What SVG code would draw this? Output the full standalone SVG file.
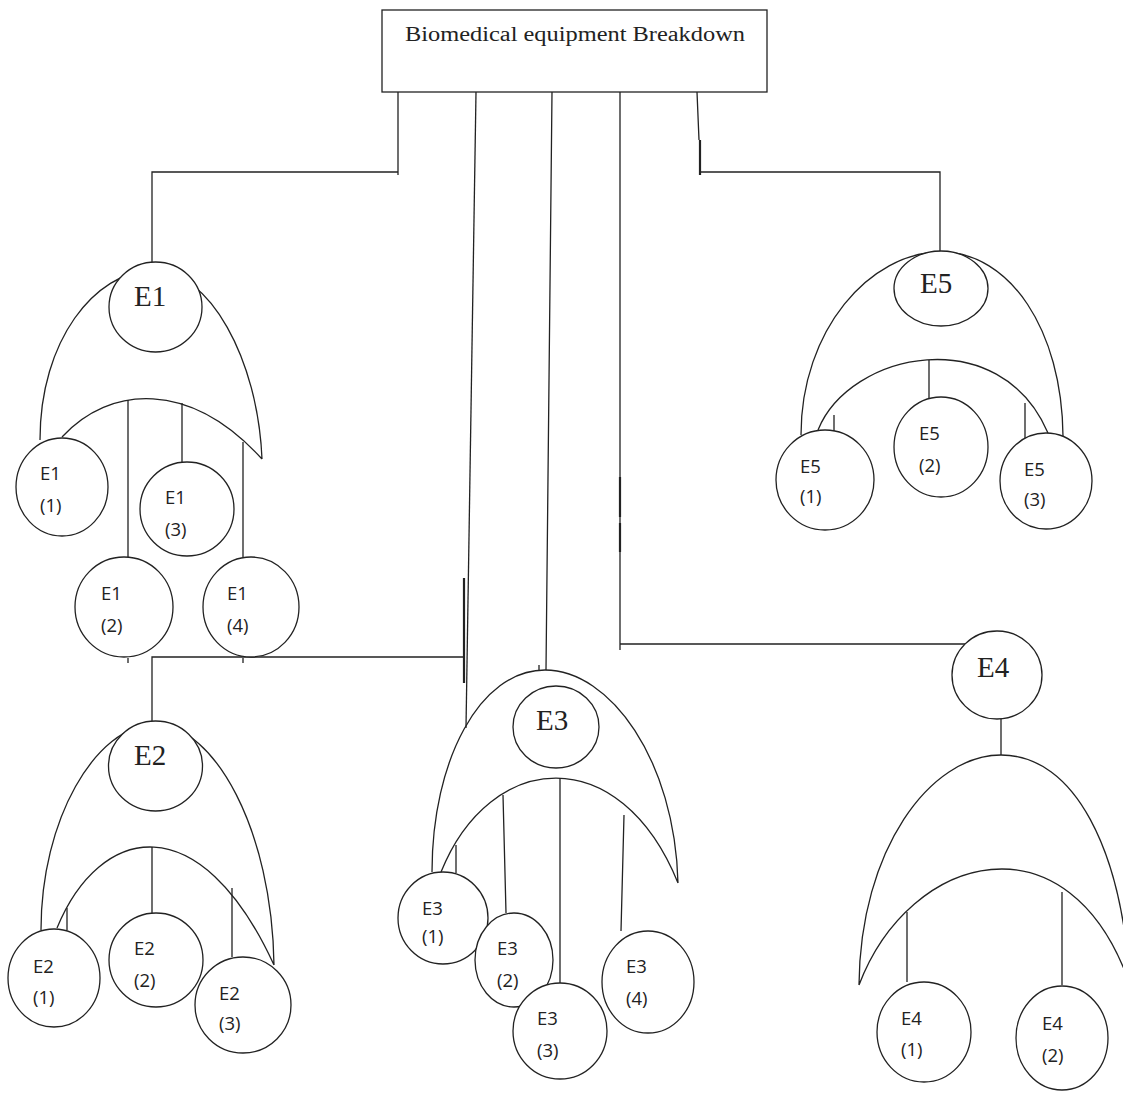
<svg xmlns="http://www.w3.org/2000/svg" width="1123" height="1095" viewBox="0 0 1123 1095">
<style>
.ln{fill:none;stroke:#222;stroke-width:1.3}
.tk{fill:none;stroke:#222;stroke-width:2.2}
.arc{fill:none;stroke:#222;stroke-width:1.3}
.nd{fill:#fff;stroke:#222;stroke-width:1.3}
.big{font-family:"Liberation Serif","Times New Roman",serif;font-size:29px;fill:#222}
.sm{font-family:"Open Sans","Liberation Sans",sans-serif;font-size:18.5px;fill:#222}
.ttl{font-family:"Liberation Serif","Times New Roman",serif;font-size:20px;fill:#222}
</style>
<rect width="1123" height="1095" fill="#fff"/>
<g id="connectors">
<path class="ln" d="M398,92 V175 M398,172 H152 V262"/>
<path class="ln" d="M476,92 L466,728"/>
<path class="tk" d="M464,578 V683"/>
<path class="ln" d="M464,657 H152 V721"/>
<path class="ln" d="M128,658 V663 M243,658 V663"/>
<path class="ln" d="M552,92 L546,670 M539,665 V670"/>
<path class="ln" d="M620,92 V650 M620,644 H967"/>
<path class="tk" d="M620,477 V517 M620,523 V552"/>
<path class="ln" d="M697,92 L699,140 M700,172 H940 V251"/>
<path class="tk" d="M700,140 V175"/>
<path class="ln" d="M128,400 V557 M182,403 V462 M243,442 V557"/>
<path class="ln" d="M152,847 V913 M67,908 V930 M232,888 V957"/>
<path class="ln" d="M456,845 V873 M503,795 L506,913 M560,778 V983 M624,815 L621,931"/>
<path class="ln" d="M1001,719 V755 M907,912 V982 M1062,892 V985"/>
<path class="ln" d="M929,360 V398 M834,415 V431 M1025,403 V438"/>
</g>
<g id="groups">
<path class="arc" d="M40,440 C40,340 95,272 152,270 C210,270 258,360 262,459 M62,437 C110,385 190,380 262,459"/>
<path class="arc" d="M41,930 C41,820 95,726 155,724 C215,726 272,830 274,965 M57,928 C100,824 200,804 274,965"/>
<path class="arc" d="M432,872 C432,760 480,670 545,670 C610,670 675,760 678,883 M441,872 C490,750 620,740 678,883"/>
<path class="arc" d="M859,985 C860,850 930,755 1001,755 C1075,755 1122,850 1130,985 M859,985 C910,851 1070,811 1130,985"/>
<path class="arc" d="M801,435 C801,330 870,252 941,252 C1010,252 1062,330 1063,436 M818,430 C850,351 1000,321 1048,433"/>
</g>
<g id="root"><rect class="nd" x="382" y="10" width="385" height="82"/><text class="ttl" x="405" y="41" textLength="340" lengthAdjust="spacingAndGlyphs">Biomedical equipment Breakdown</text></g>
<g id="E1"><ellipse class="nd" cx="155.5" cy="307" rx="46.5" ry="45"/><text class="big" x="134" y="306">E1</text></g>
<g id="E1-1"><ellipse class="nd" cx="62" cy="487" rx="46" ry="49"/><text class="sm" x="40" y="480">E1</text><text class="sm" x="40" y="512">(1)</text></g>
<g id="E1-3"><ellipse class="nd" cx="187" cy="509" rx="47" ry="47"/><text class="sm" x="165" y="504">E1</text><text class="sm" x="165" y="536">(3)</text></g>
<g id="E1-2"><ellipse class="nd" cx="124" cy="607" rx="49" ry="50"/><text class="sm" x="101" y="600">E1</text><text class="sm" x="101" y="632">(2)</text></g>
<g id="E1-4"><ellipse class="nd" cx="251" cy="607" rx="48" ry="50"/><text class="sm" x="227" y="600">E1</text><text class="sm" x="227" y="632">(4)</text></g>
<g id="E2"><ellipse class="nd" cx="155.5" cy="766" rx="47" ry="45"/><text class="big" x="134" y="765">E2</text></g>
<g id="E2-1"><ellipse class="nd" cx="54" cy="978" rx="46" ry="49"/><text class="sm" x="33" y="973">E2</text><text class="sm" x="33" y="1004">(1)</text></g>
<g id="E2-2"><ellipse class="nd" cx="156" cy="960" rx="47" ry="47"/><text class="sm" x="134" y="955">E2</text><text class="sm" x="134" y="987">(2)</text></g>
<g id="E2-3"><ellipse class="nd" cx="243" cy="1005" rx="48" ry="48"/><text class="sm" x="219" y="1000">E2</text><text class="sm" x="219" y="1030">(3)</text></g>
<g id="E3"><ellipse class="nd" cx="556" cy="727" rx="43" ry="41"/><text class="big" x="536" y="730">E3</text></g>
<g id="E3-1"><ellipse class="nd" cx="443" cy="918" rx="45" ry="46"/><text class="sm" x="422" y="915">E3</text><text class="sm" x="422" y="943">(1)</text></g>
<g id="E3-2"><ellipse class="nd" cx="514" cy="960" rx="39" ry="47"/><text class="sm" x="497" y="955">E3</text><text class="sm" x="497" y="987">(2)</text></g>
<g id="E3-3"><ellipse class="nd" cx="560" cy="1031" rx="47" ry="48"/><text class="sm" x="537" y="1025">E3</text><text class="sm" x="537" y="1057">(3)</text></g>
<g id="E3-4"><ellipse class="nd" cx="648" cy="982" rx="46" ry="51"/><text class="sm" x="626" y="973">E3</text><text class="sm" x="626" y="1005">(4)</text></g>
<g id="E4"><ellipse class="nd" cx="997" cy="675" rx="45" ry="44"/><text class="big" x="977" y="677">E4</text></g>
<g id="E4-1"><ellipse class="nd" cx="924" cy="1032" rx="47" ry="50"/><text class="sm" x="901" y="1025">E4</text><text class="sm" x="901" y="1056">(1)</text></g>
<g id="E4-2"><ellipse class="nd" cx="1062" cy="1038" rx="46" ry="52"/><text class="sm" x="1042" y="1030">E4</text><text class="sm" x="1042" y="1062">(2)</text></g>
<g id="E5"><ellipse class="nd" cx="941" cy="288.5" rx="47" ry="37.5"/><text class="big" x="920" y="293">E5</text></g>
<g id="E5-1"><ellipse class="nd" cx="825" cy="480" rx="49" ry="50"/><text class="sm" x="800" y="473">E5</text><text class="sm" x="800" y="503">(1)</text></g>
<g id="E5-2"><ellipse class="nd" cx="941" cy="447" rx="47" ry="50"/><text class="sm" x="919" y="440">E5</text><text class="sm" x="919" y="472">(2)</text></g>
<g id="E5-3"><ellipse class="nd" cx="1046" cy="481" rx="46" ry="48"/><text class="sm" x="1024" y="476">E5</text><text class="sm" x="1024" y="506">(3)</text></g>
</svg>
